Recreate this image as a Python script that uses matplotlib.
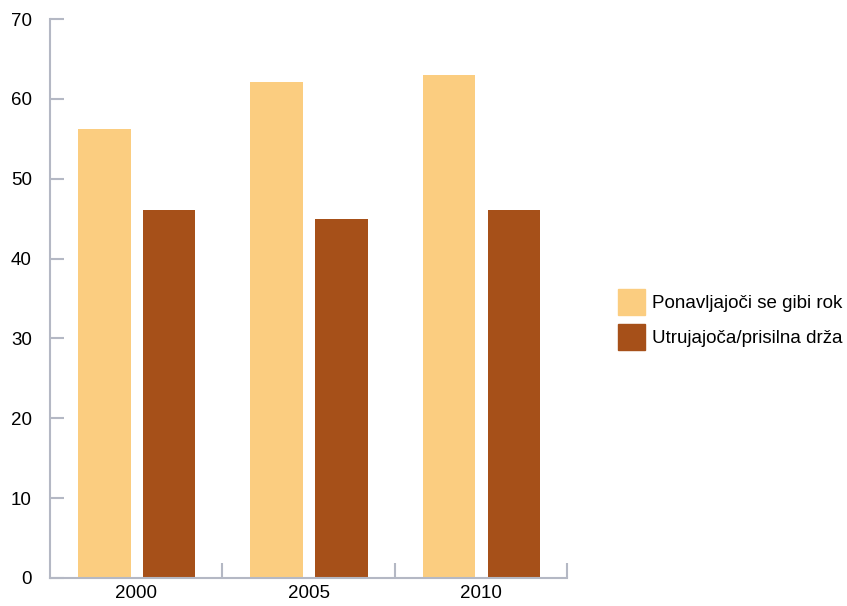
import matplotlib.pyplot as plt
import numpy as np
from matplotlib.patches import Patch

plt.rcParams['font.family'] = ['Liberation Sans', 'DejaVu Sans']

years = ['2000', '2005', '2010']
repetitive = [56.2, 62.1, 63.0]
sustained = [46.1, 45.0, 46.1]
labels = ['Ponavljajoči se gibi rok', 'Utrujajoča/prisilna drža']

light = '#fbcd80'
dark = '#a65019'
axis_col = '#b4b8c4'

fig = plt.figure(figsize=(8.47, 6.06), dpi=100)
ax = fig.add_axes([50 / 847, 28 / 606, 517 / 847, 559 / 606])

x = np.arange(len(years))
ax.bar(x + 0.316, repetitive, width=0.306, color=light)
ax.bar(x + 0.691, sustained, width=0.304, color=dark)

ax.set_xlim(0, 3)
ax.set_ylim(0, 70)
ax.set_yticks(range(0, 71, 10))
ax.set_xticks([1, 2, 3])
ax.set_xticklabels([])
ax.set_xticks(x + 0.5, minor=True)
ax.set_xticklabels(years, minor=True)

for s in ['top', 'right']:
    ax.spines[s].set_visible(False)
for s in ['left', 'bottom']:
    ax.spines[s].set_color(axis_col)
    ax.spines[s].set_linewidth(1.5)

ax.tick_params(axis='y', direction='in', length=10, width=1.5, color=axis_col,
               labelsize=13.5, pad=13)
ax.tick_params(axis='x', which='major', direction='in', length=11, width=1.5,
               color=axis_col)
ax.tick_params(axis='x', which='minor', length=0, labelsize=13.5, pad=5)

# legend sits to the right of the plot
handles = [Patch(color=light), Patch(color=dark)]
fig.legend(handles, labels, loc='upper left', bbox_to_anchor=(605 / 847, 1 - 276 / 606),
           frameon=False, fontsize=13.5, handlelength=1.45, handleheight=1.76,
           labelspacing=0.48, handletextpad=0.37, borderpad=0.2)

fig.savefig('out.png', dpi=100)
